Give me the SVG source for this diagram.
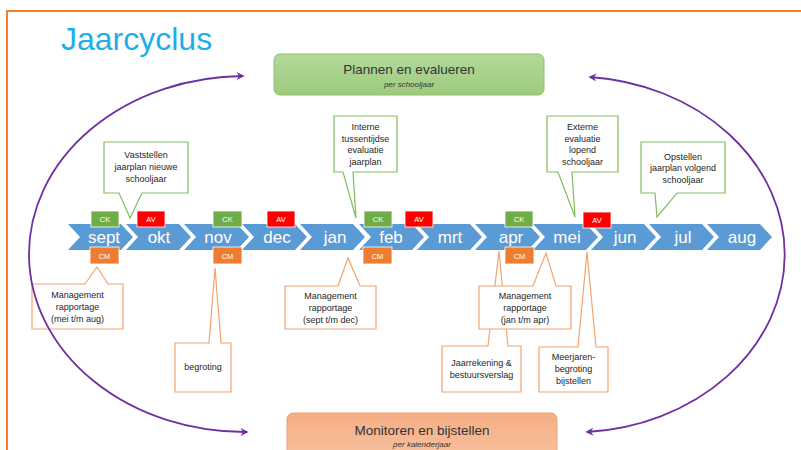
<svg xmlns="http://www.w3.org/2000/svg" width="801" height="450" viewBox="0 0 801 450">
<style>
.frame{fill:none;stroke:#f57c2a;stroke-width:2}
.title{font-family:"Liberation Sans",Arial,sans-serif;font-size:32px;fill:#1cb0e6}
.hdr{font-family:"Liberation Sans",Arial,sans-serif;font-size:13.5px;fill:#333;text-anchor:middle}
.sub{font-family:"Liberation Sans",Arial,sans-serif;font-size:8px;font-style:italic;fill:#333;text-anchor:middle}
.chev{fill:#5b9bd5}
.mon{font-family:"Liberation Sans",Arial,sans-serif;font-size:17px;fill:#fff;text-anchor:middle}
.ck{fill:#70ad47;stroke:#fff;stroke-width:0.8}
.av{fill:#ff0000;stroke:#fff;stroke-width:0.8}
.cm{fill:#ed7d31;stroke:#fff;stroke-width:0.8}
.tag{font-family:"Liberation Sans",Arial,sans-serif;font-size:7.5px;fill:#fff;text-anchor:middle}
.gc{fill:#fff;stroke:#82bd5e;stroke-width:1.2}
.oc{fill:#fff;stroke:#f4a26e;stroke-width:1.2}
.ct{font-family:"Liberation Sans",Arial,sans-serif;font-size:9px;fill:#262626;text-anchor:middle}
.arc{fill:none;stroke:#7030a0;stroke-width:1.8}
</style>
<defs>
<linearGradient id="gg" x1="0" y1="0" x2="0" y2="1"><stop offset="0" stop-color="#b3d99a"/><stop offset="1" stop-color="#9ecb7f"/></linearGradient>
<linearGradient id="og" x1="0" y1="0" x2="0" y2="1"><stop offset="0" stop-color="#f5ad84"/><stop offset="1" stop-color="#f8c4a2"/></linearGradient>
<marker id="ah" viewBox="0 0 10 10" refX="8" refY="5" markerWidth="9" markerHeight="8" markerUnits="userSpaceOnUse" orient="auto-start-reverse"><path d="M0,0 L10,5 L0,10 L3,5 Z" fill="#7030a0"/></marker>
</defs>
<rect class="frame" x="7" y="11" width="820" height="470"/>
<text class="title" x="61" y="50">Jaarcyclus</text>

<g id="plannen">
<rect x="274" y="54" width="270" height="41" rx="6" fill="url(#gg)" stroke="#8dbf6c" stroke-width="1"/>
<text class="hdr" x="409" y="74">Plannen en evalueren</text>
<text class="sub" x="409" y="87">per schooljaar</text>
</g>
<g id="monitoren">
<rect x="287" y="413" width="270" height="50" rx="6" fill="url(#og)" stroke="#f2a074" stroke-width="1"/>
<text class="hdr" x="422" y="435">Monitoren en bijstellen</text>
<text class="sub" x="422" y="447">per kalenderjaar</text>
</g>

<g id="months">
<g id="m-sept"><path class="chev" d="M68,224 H121 L133,237 L121,250 H68 L80,237 Z"/><text class="mon" x="104" y="243">sept</text></g>
<g id="m-okt"><path class="chev" d="M126,224 H179 L191,237 L179,250 H126 L138,237 Z"/><text class="mon" x="159" y="243">okt</text></g>
<g id="m-nov"><path class="chev" d="M184,224 H237 L249,237 L237,250 H184 L196,237 Z"/><text class="mon" x="218" y="243">nov</text></g>
<g id="m-dec"><path class="chev" d="M242,224 H295 L307,237 L295,250 H242 L254,237 Z"/><text class="mon" x="277" y="243">dec</text></g>
<g id="m-jan"><path class="chev" d="M300,224 H353 L365,237 L353,250 H300 L312,237 Z"/><text class="mon" x="335" y="243">jan</text></g>
<g id="m-feb"><path class="chev" d="M359,224 H412 L424,237 L412,250 H359 L371,237 Z"/><text class="mon" x="391" y="243">feb</text></g>
<g id="m-mrt"><path class="chev" d="M417,224 H470 L482,237 L470,250 H417 L429,237 Z"/><text class="mon" x="450" y="243">mrt</text></g>
<g id="m-apr"><path class="chev" d="M475,224 H528 L540,237 L528,250 H475 L487,237 Z"/><text class="mon" x="511" y="243">apr</text></g>
<g id="m-mei"><path class="chev" d="M533,224 H586 L598,237 L586,250 H533 L545,237 Z"/><text class="mon" x="567" y="243">mei</text></g>
<g id="m-jun"><path class="chev" d="M591,224 H644 L656,237 L644,250 H591 L603,237 Z"/><text class="mon" x="625" y="243">jun</text></g>
<g id="m-jul"><path class="chev" d="M649,224 H702 L714,237 L702,250 H649 L661,237 Z"/><text class="mon" x="683" y="243">jul</text></g>
<g id="m-aug"><path class="chev" d="M707,224 H760 L772,237 L760,250 H707 L719,237 Z"/><text class="mon" x="742" y="243">aug</text></g>
</g>

<g id="tags">
<g id="ck1"><rect class="ck" x="91" y="211" width="28" height="16"/><text class="tag" x="105" y="222">CK</text></g>
<g id="av1"><rect class="av" x="137" y="211" width="28" height="16"/><text class="tag" x="151" y="222">AV</text></g>
<g id="ck2"><rect class="ck" x="213" y="211" width="29" height="16"/><text class="tag" x="227.5" y="222">CK</text></g>
<g id="av2"><rect class="av" x="267" y="211" width="28" height="16"/><text class="tag" x="281" y="222">AV</text></g>
<g id="ck3"><rect class="ck" x="364" y="211" width="28" height="16"/><text class="tag" x="378" y="222">CK</text></g>
<g id="av3"><rect class="av" x="405" y="211" width="28" height="16"/><text class="tag" x="419" y="222">AV</text></g>
<g id="ck4"><rect class="ck" x="505" y="211" width="28" height="16"/><text class="tag" x="519" y="222">CK</text></g>
<g id="av4"><rect class="av" x="583" y="212" width="28" height="16"/><text class="tag" x="597" y="223">AV</text></g>
<g id="cm1"><rect class="cm" x="90" y="247" width="29" height="17"/><text class="tag" x="104.5" y="258.5">CM</text></g>
<g id="cm2"><rect class="cm" x="213" y="247" width="29" height="17"/><text class="tag" x="227.5" y="258.5">CM</text></g>
<g id="cm3"><rect class="cm" x="363" y="247" width="29" height="17"/><text class="tag" x="377.5" y="258.5">CM</text></g>
<g id="cm4"><rect class="cm" x="505" y="247" width="29" height="17"/><text class="tag" x="519.5" y="258.5">CM</text></g>
</g>

<g id="c-vaststellen"><path class="gc" d="M104,142 H188 V193 H142 L130,218 L119,193 H104 Z"/>
<text class="ct" x="146" y="158">Vaststellen</text><text class="ct" x="146" y="170">jaarplan nieuwe</text><text class="ct" x="146" y="182">schooljaar</text></g>
<g id="c-interne"><path class="gc" d="M334,116 H397 V172 H353 L356,218 L343,172 H334 Z"/>
<text class="ct" x="365.5" y="130">Interne</text><text class="ct" x="365.5" y="141.5">tussentijdse</text><text class="ct" x="365.5" y="153">evaluatie</text><text class="ct" x="365.5" y="165">jaarplan</text></g>
<g id="c-externe"><path class="gc" d="M547,116 H618 V172 H572 L575,217 L558,172 H547 Z"/>
<text class="ct" x="582.5" y="130">Externe</text><text class="ct" x="582.5" y="141.5">evaluatie</text><text class="ct" x="582.5" y="153">lopend</text><text class="ct" x="582.5" y="165">schooljaar</text></g>
<g id="c-opstellen"><path class="gc" d="M641,142 H725 V193 H677 L657,217 L655,193 H641 Z"/>
<text class="ct" x="683" y="160">Opstellen</text><text class="ct" x="683" y="171">jaarplan volgend</text><text class="ct" x="683" y="183">schooljaar</text></g>

<g id="c-mr1"><path class="oc" d="M32,284 H85 L97,267 L108,284 H123 V329 H32 Z"/>
<text class="ct" x="77.5" y="298">Management</text><text class="ct" x="77.5" y="310">rapportage</text><text class="ct" x="77.5" y="322">(mei t/m aug)</text></g>
<g id="c-begroting"><path class="oc" d="M175,343 H209 L215,268 L221,343 H231 V392 H175 Z"/>
<text class="ct" x="203" y="370">begroting</text></g>
<g id="c-mr2"><path class="oc" d="M285,286 H338 L348,258 L360,286 H376 V329 H285 Z"/>
<text class="ct" x="330.5" y="299">Management</text><text class="ct" x="330.5" y="311">rapportage</text><text class="ct" x="330.5" y="323">(sept t/m dec)</text></g>
<g id="c-jaarrekening"><path class="oc" d="M442,346 H488 L499,251 L508,346 H521 V392 H442 Z"/>
<text class="ct" x="481.5" y="366">Jaarrekening &amp;</text><text class="ct" x="481.5" y="378">bestuursverslag</text></g>
<g id="c-mr3"><path class="oc" d="M479,286 H533 L546,253 L556,286 H571 V329 H479 Z"/>
<text class="ct" x="525" y="299">Management</text><text class="ct" x="525" y="311">rapportage</text><text class="ct" x="525" y="323">(jan t/m apr)</text></g>
<g id="c-meerjaren"><path class="oc" d="M539,347 H578 L587,252 L596,347 H608 V392 H539 Z"/>
<text class="ct" x="573.5" y="360">Meerjaren-</text><text class="ct" x="573.5" y="372">begroting</text><text class="ct" x="573.5" y="384">bijstellen</text></g>

<g id="connectors">
<path class="arc" d="M243,76 A216 178 0 0 0 247,432" marker-start="url(#ah)" marker-end="url(#ah)"/>
<path class="arc" d="M590,77 A212 178 0 0 1 587,432" marker-start="url(#ah)" marker-end="url(#ah)"/>
</g>
</svg>
